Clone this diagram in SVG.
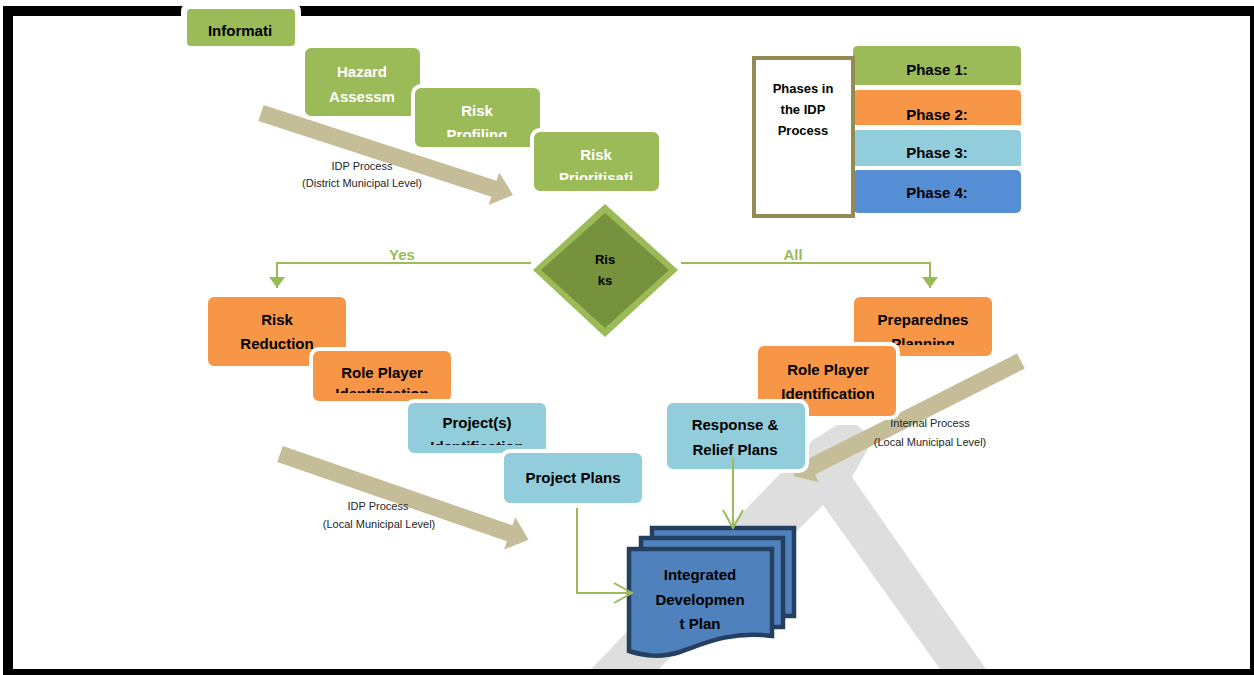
<svg xmlns="http://www.w3.org/2000/svg" width="1254" height="675" viewBox="0 0 1254 675">
  <defs>
    <style>
      .t { font-family: "Liberation Sans", Arial, sans-serif; font-weight: bold; font-size: 15px; text-anchor: middle; fill: #000; }
      .w { fill: #fff; }
      .sm { font-family: "Liberation Sans", Arial, sans-serif; font-size: 11px; text-anchor: middle; fill: #262626; }
      .lbl { font-family: "Liberation Sans", Arial, sans-serif; font-weight: bold; font-size: 15px; text-anchor: middle; fill: #9bbb59; }
      .green { fill: #9bbb59; stroke: #fff; stroke-width: 4; }
      .orange { fill: #f79646; stroke: #fff; stroke-width: 4; }
      .cyan { fill: #92cddc; stroke: #fff; stroke-width: 4; }
      .flow { fill: none; stroke: #9bbb59; stroke-width: 2; }
      .tan { fill: #c4bd97; }
      .page { fill: #4f81bd; stroke: #243f60; stroke-width: 4.5; stroke-linejoin: miter; }
    </style>
    <marker id="tri" markerUnits="userSpaceOnUse" markerWidth="12" markerHeight="17" refX="11" refY="8" orient="auto">
      <path d="M0,0 L11,8 L0,16 Z" fill="#9bbb59"/>
    </marker>
    <marker id="vee" markerUnits="userSpaceOnUse" markerWidth="22" markerHeight="24" refX="19" refY="11" orient="auto">
      <path d="M1,1 L19,11 L1,21" fill="none" stroke="#9bbb59" stroke-width="2"/>
    </marker>
    <clipPath id="cpProf"><rect x="413" y="86" width="129" height="51"/></clipPath>
    <clipPath id="cpPrio"><rect x="532" y="130" width="129" height="50"/></clipPath>
    <clipPath id="cpRole1"><rect x="311" y="349" width="142" height="44"/></clipPath>
    <clipPath id="cpProj"><rect x="406" y="401" width="142" height="44"/></clipPath>
    <clipPath id="cpPrep"><rect x="852" y="295" width="142" height="50"/></clipPath>
  </defs>

  <rect width="1254" height="675" fill="#fff"/>

  <!-- light grey chevron in the background -->
  <polygon points="588,672 813,440 837,425 857,425 873,440 852,477 988,672 942,672 823,505 656,672" fill="#dedede"/>

  <!-- outer frame -->
  <rect x="8" y="11" width="1247" height="663" fill="none" stroke="#000" stroke-width="10"/>

  <!-- broad process arrows with their captions -->
  <g id="process-arrows">
    <path class="tan" transform="translate(261,113) rotate(18.02)" d="M0,-8.5 L245,-8.5 L245,-17 L265,0 L245,17 L245,8.5 L0,8.5 Z"/>
    <path class="tan" transform="translate(280,454) rotate(19.05)" d="M0,-8.5 L243,-8.5 L243,-17 L263,0 L243,17 L243,8.5 L0,8.5 Z"/>
    <path class="tan" transform="translate(1021,361) rotate(153.2)" d="M0,-8.5 L235,-8.5 L235,-17 L255,0 L235,17 L235,8.5 L0,8.5 Z"/>
    <text class="sm" x="362" y="170">IDP Process</text>
    <text class="sm" x="362" y="187">(District Municipal Level)</text>
    <text class="sm" x="378" y="510">IDP Process</text>
    <text class="sm" x="379" y="528">(Local Municipal Level)</text>
    <text class="sm" x="930" y="427">Internal Process</text>
    <text class="sm" x="930" y="446">(Local Municipal Level)</text>
  </g>

  <!-- district level steps -->
  <g id="information">
    <rect x="181" y="3" width="120" height="49" rx="8" fill="#fff"/>
    <rect class="green" x="185" y="7" width="112" height="41" rx="6"/>
    <text class="t" x="240" y="36">Informati</text>
  </g>
  <g id="hazard-assessment">
    <rect class="green" x="303" y="46" width="119" height="72" rx="8"/>
    <text class="t w" x="362" y="77">Hazard</text>
    <text class="t w" x="362" y="102">Assessm</text>
  </g>
  <g id="risk-profiling">
    <rect class="green" x="413" y="86" width="129" height="63" rx="8"/>
    <text class="t w" x="477" y="116">Risk</text>
    <text class="t w" x="477" y="140" clip-path="url(#cpProf)">Profiling</text>
  </g>
  <g id="risk-prioritisation">
    <rect class="green" x="532" y="130" width="129" height="63" rx="8"/>
    <text class="t w" x="596" y="160">Risk</text>
    <text class="t w" x="596" y="183" clip-path="url(#cpPrio)">Prioritisati</text>
  </g>

  <!-- legend -->
  <g id="phase-1">
    <path d="M853,85 V51 Q853,46 858,46 H1016 Q1021,46 1021,51 V85 Z" fill="#9bbb59"/>
    <text class="t" x="937" y="75">Phase 1:</text>
  </g>
  <g id="phase-2">
    <path d="M853,125 V95 Q853,90 858,90 H1016 Q1021,90 1021,95 V125 Z" fill="#f79646"/>
    <text class="t" x="937" y="120">Phase 2:</text>
  </g>
  <g id="phase-3">
    <path d="M853,166 V135 Q853,130 858,130 H1016 Q1021,130 1021,135 V166 Z" fill="#92cddc"/>
    <text class="t" x="937" y="158">Phase 3:</text>
  </g>
  <g id="phase-4">
    <rect x="853" y="170" width="168" height="43" rx="5" fill="#558ed5"/>
    <text class="t" x="937" y="198">Phase 4:</text>
  </g>
  <g id="phases-title">
    <rect x="754" y="58" width="99" height="158" fill="#fff" stroke="#948a54" stroke-width="4"/>
    <text class="t" x="803" y="93" style="font-size:13px">Phases in</text>
    <text class="t" x="803" y="114" style="font-size:13px">the IDP</text>
    <text class="t" x="803" y="135" style="font-size:13px">Process</text>
  </g>

  <!-- decision -->
  <g id="risks">
    <polygon points="605,204 678,270 605,337 533,270" fill="#9bbb59"/>
    <polygon points="605,213 669,270 605,328 541,270" fill="#76923c"/>
    <text class="t" x="605" y="264" style="font-size:13px">Ris</text>
    <text class="t" x="605" y="285" style="font-size:13px">ks</text>
  </g>

  <!-- risk reduction branch -->
  <g id="risk-reduction">
    <rect class="orange" x="206" y="295" width="142" height="73" rx="8"/>
    <text class="t" x="277" y="325">Risk</text>
    <text class="t" x="277" y="349">Reduction</text>
  </g>
  <g id="role-player-left">
    <rect class="orange" x="311" y="349" width="142" height="54" rx="8"/>
    <text class="t" x="382" y="378">Role Player</text>
    <text class="t" x="382" y="399" clip-path="url(#cpRole1)">Identification</text>
  </g>
  <g id="project-identification">
    <rect class="cyan" x="406" y="401" width="142" height="54" rx="8"/>
    <text class="t" x="477" y="428">Project(s)</text>
    <text class="t" x="477" y="452" clip-path="url(#cpProj)">Identification</text>
  </g>
  <g id="project-plans">
    <rect class="cyan" x="502" y="451" width="142" height="54" rx="8"/>
    <text class="t" x="573" y="483">Project Plans</text>
  </g>

  <!-- preparedness branch -->
  <g id="preparedness-planning">
    <rect class="orange" x="852" y="295" width="142" height="63" rx="8"/>
    <text class="t" x="923" y="325">Preparednes</text>
    <text class="t" x="923" y="349" clip-path="url(#cpPrep)">Planning</text>
  </g>
  <g id="role-player-right">
    <rect class="orange" x="756" y="344" width="142" height="74" rx="8"/>
    <text class="t" x="828" y="375">Role Player</text>
    <text class="t" x="828" y="399">Identification</text>
  </g>
  <g id="response-relief">
    <rect class="cyan" x="665" y="401" width="142" height="70" rx="8"/>
    <text class="t" x="735" y="430">Response &amp;</text>
    <text class="t" x="735" y="455">Relief Plans</text>
  </g>

  <!-- outcome document -->
  <g id="idp">
    <rect class="page" x="652" y="528" width="142" height="88"/>
    <rect class="page" x="641" y="538" width="142" height="89"/>
    <path class="page" d="M629,549 H772 V636 C730,630 700,645 680,652 C660,658 645,656 629,651 Z"/>
    <text class="t" x="700" y="580">Integrated</text>
    <text class="t" x="700" y="605">Developmen</text>
    <text class="t" x="700" y="629">t Plan</text>
  </g>

  <!-- connectors -->
  <g id="connectors">
    <path class="flow" d="M531,263 H277 V288" marker-end="url(#tri)"/>
    <text class="lbl" x="402" y="260">Yes</text>
    <path class="flow" d="M681,263 H930 V288" marker-end="url(#tri)"/>
    <text class="lbl" x="793" y="260">All</text>
    <path class="flow" d="M577,508 V593 H632" marker-end="url(#vee)"/>
    <path class="flow" d="M733,458 V528" marker-end="url(#vee)"/>
  </g>
</svg>
